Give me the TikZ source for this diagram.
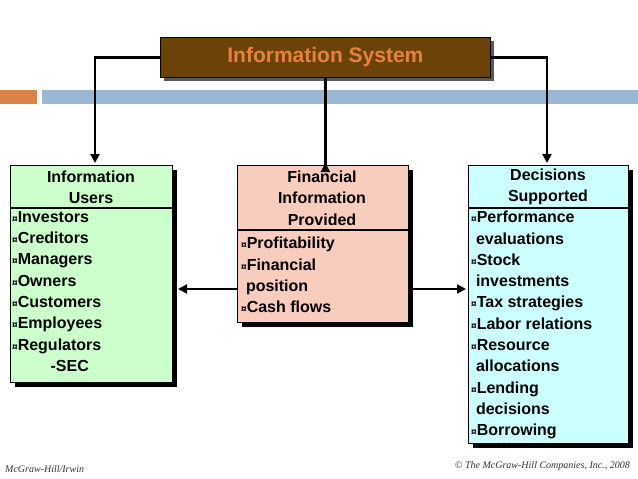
\documentclass[tikz,border=0pt]{standalone}
\usepackage{fontspec}
\setmainfont{Liberation Sans}
\newfontfamily\serifit{Liberation Serif}
\usetikzlibrary{arrows.meta}
\definecolor{titlebg}{HTML}{6B4308}
\definecolor{titlefg}{HTML}{E8823A}
\definecolor{barorange}{HTML}{D9834A}
\definecolor{barblue}{HTML}{9AB8D6}
\definecolor{greenbg}{HTML}{CCFFCC}
\definecolor{pinkbg}{HTML}{F9CDBE}
\definecolor{cyanbg}{HTML}{CCFFFF}
\tikzset{
 conn/.style={line width=2.2pt,-{Triangle[length=9pt,width=9pt]}},
 txt/.style={font=\bfseries\fontsize{16}{21.3}\selectfont,inner sep=0pt},
 boxs/.style={draw=black,line width=0.8pt},
}
\newcommand{\cur}{{\fontsize{10}{10}\selectfont ¤}}
\begin{document}
\begin{tikzpicture}[x=1pt,y=-1pt]
\useasboundingbox (0,0) rectangle (638,479);
\fill[white] (0,0) rectangle (638,479);
% bars
\fill[barorange] (0,90) rectangle (37,104);
\fill[barblue] (42,90) rectangle (638,104);
% title
\fill[gray!70!black] (164,41) rectangle (494,81);
\node[boxs,fill=titlebg,minimum width=330pt,minimum height=40pt,anchor=north west,inner sep=0pt] (title) at (160,37) {};
\node[txt,text=titlefg,font=\bfseries\fontsize{21}{24}\selectfont] at (title.center) {Information System};
% boxes with shadows
\fill[black] (15,170) rectangle (177,387);
\node[boxs,fill=greenbg,minimum width=162pt,minimum height=217pt,anchor=north west,inner sep=0pt] (users) at (10,165) {};
\fill[black] (242,170) rectangle (413,327);
\node[boxs,fill=pinkbg,minimum width=171pt,minimum height=157pt,anchor=north west,inner sep=0pt] (info) at (237,165) {};
\fill[black] (473,170) rectangle (633,448);
\node[boxs,fill=cyanbg,minimum width=160pt,minimum height=278pt,anchor=north west,inner sep=0pt] (dec) at (468,165) {};
\draw[line width=2pt] (10,208) -- (172,208);
\draw[line width=2pt] (237,230) -- (408,230);
\draw[line width=2pt] (468,208) -- (628,208);
% headers
\node[txt,align=center] at (91,187) {Information\\Users};
\node[txt,align=center] at (322,198) {Financial\\Information\\Provided};
\node[txt,align=center] at (548,187) {Decisions\\Supported};
% lists
\node[txt,align=left,anchor=north west] at (12,211) {\cur Investors\\\cur Creditors\\\cur Managers\\\cur Owners\\\cur Customers\\\cur Employees\\\cur Regulators\\\hspace{2.4em}-SEC};
\node[txt,align=left,anchor=north west] at (241,237) {\cur Profitability\\\cur Financial\\\hspace{0.3em}position\\\cur Cash flows};
\node[txt,align=left,anchor=north west] at (471,211) {\cur Performance\\\hspace{0.3em}evaluations\\\cur Stock\\\hspace{0.3em}investments\\\cur Tax strategies\\\cur Labor relations\\\cur Resource\\\hspace{0.3em}allocations\\\cur Lending\\\hspace{0.3em}decisions\\\cur Borrowing};
% connectors
\draw[conn] (title.west) -| (95,163);
\draw[conn] (title.south) -- (title.south |- info.north) -- ++(0,-2);
\draw[conn] (title.east) -| (547,163);
\draw[conn] (info.west |- 0,289) -- (178,289);
\draw[conn] (info.east |- 0,289) -- (466,289);
% footer
\node[anchor=west,inner sep=0pt,text=black!80,font=\serifit\itshape\fontsize{10}{11}\selectfont] at (5,469) {McGraw-Hill/Irwin};
\node[anchor=east,inner sep=0pt,text=black!80,font=\serifit\itshape\fontsize{10}{11}\selectfont] at (630,466) {© The McGraw-Hill Companies, Inc., 2008};
\end{tikzpicture}
\end{document}
